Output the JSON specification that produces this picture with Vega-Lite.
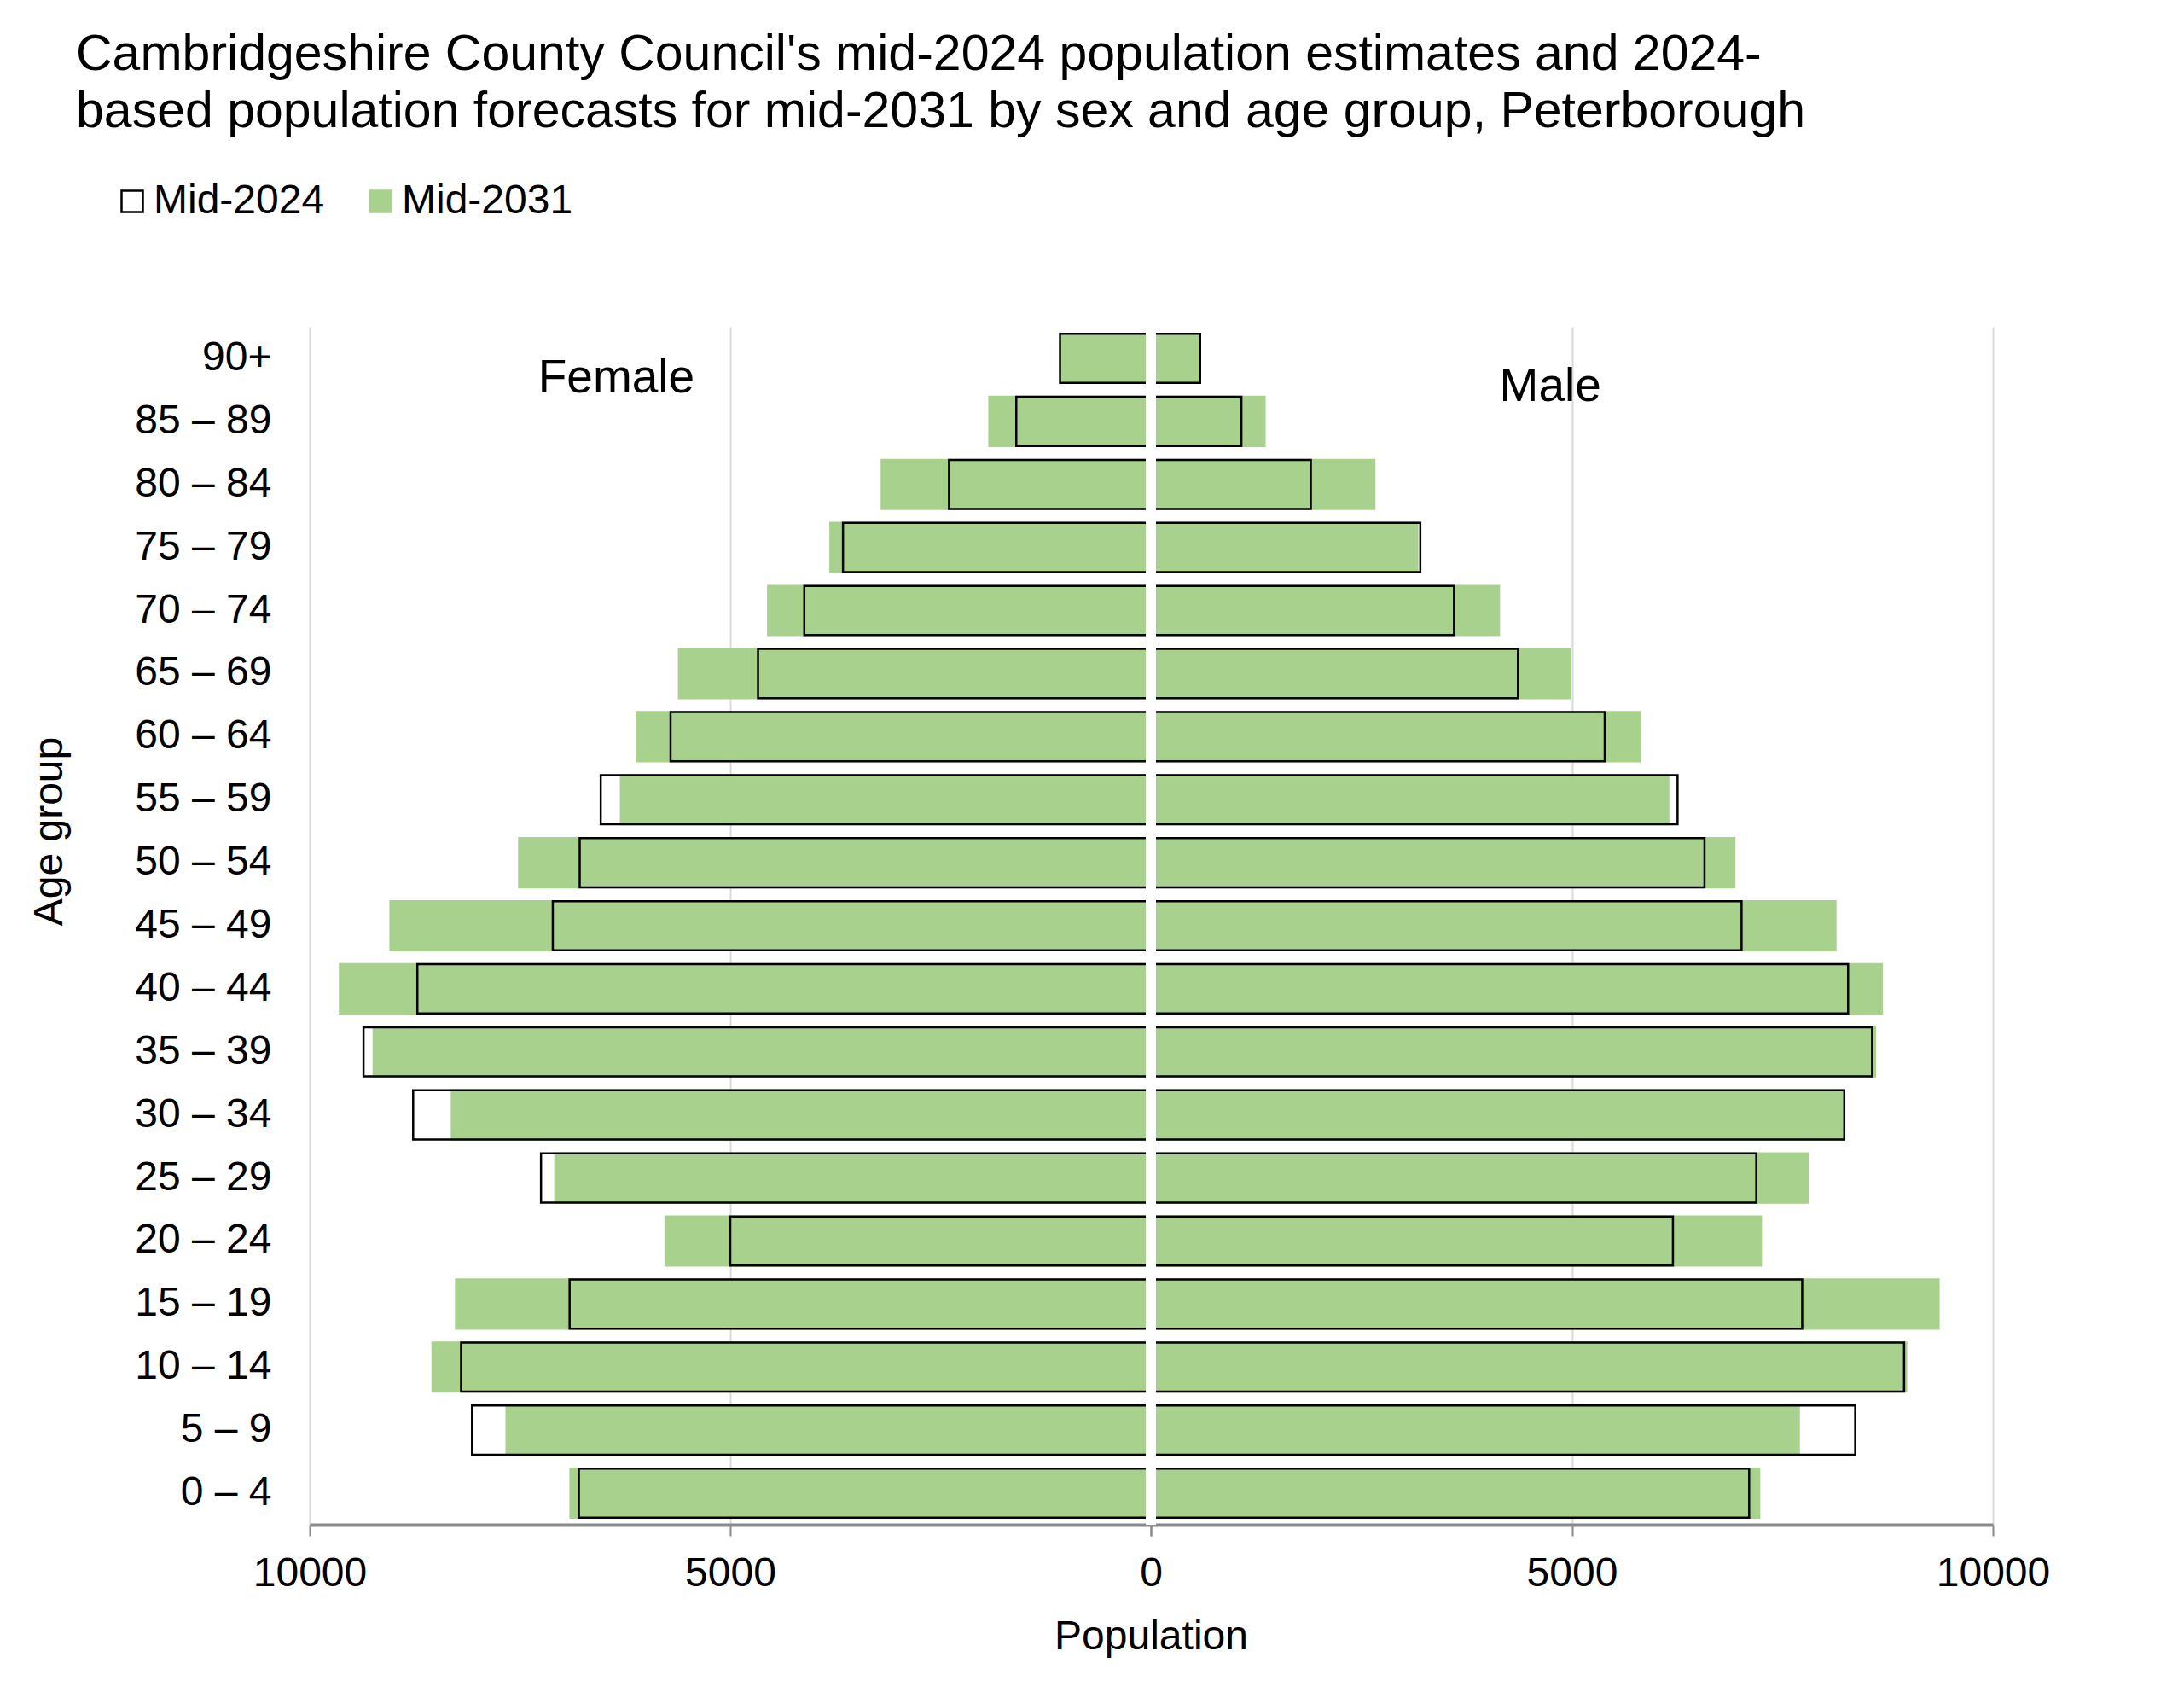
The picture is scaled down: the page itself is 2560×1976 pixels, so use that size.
{
  "$schema": "https://vega.github.io/schema/vega-lite/v6.json",
  "padding": {"left": 34, "top": 35, "right": 150, "bottom": 40},
  "background": "white",
  "title": {
    "text": ["Cambridgeshire County Council's mid-2024 population estimates and 2024-", "based population forecasts for mid-2031 by sex and age group, Peterborough"],
    "anchor": "start",
    "frame": "group",
    "dx": -274,
    "offset": 51,
    "fontSize": 59,
    "fontWeight": "normal",
    "lineHeight": 67,
    "color": "#000000"
  },
  "datasets": {
    "pop": [
      {"age": "90+", "sex": "Female", "series": "Mid-2024", "population": 1080},
      {"age": "90+", "sex": "Female", "series": "Mid-2031", "population": 1070},
      {"age": "85 – 89", "sex": "Female", "series": "Mid-2024", "population": 1600},
      {"age": "85 – 89", "sex": "Female", "series": "Mid-2031", "population": 1920},
      {"age": "80 – 84", "sex": "Female", "series": "Mid-2024", "population": 2400},
      {"age": "80 – 84", "sex": "Female", "series": "Mid-2031", "population": 3200},
      {"age": "75 – 79", "sex": "Female", "series": "Mid-2024", "population": 3660},
      {"age": "75 – 79", "sex": "Female", "series": "Mid-2031", "population": 3810},
      {"age": "70 – 74", "sex": "Female", "series": "Mid-2024", "population": 4120},
      {"age": "70 – 74", "sex": "Female", "series": "Mid-2031", "population": 4550},
      {"age": "65 – 69", "sex": "Female", "series": "Mid-2024", "population": 4670},
      {"age": "65 – 69", "sex": "Female", "series": "Mid-2031", "population": 5610},
      {"age": "60 – 64", "sex": "Female", "series": "Mid-2024", "population": 5710},
      {"age": "60 – 64", "sex": "Female", "series": "Mid-2031", "population": 6110},
      {"age": "55 – 59", "sex": "Female", "series": "Mid-2024", "population": 6540},
      {"age": "55 – 59", "sex": "Female", "series": "Mid-2031", "population": 6300},
      {"age": "50 – 54", "sex": "Female", "series": "Mid-2024", "population": 6790},
      {"age": "50 – 54", "sex": "Female", "series": "Mid-2031", "population": 7510},
      {"age": "45 – 49", "sex": "Female", "series": "Mid-2024", "population": 7110},
      {"age": "45 – 49", "sex": "Female", "series": "Mid-2031", "population": 9040},
      {"age": "40 – 44", "sex": "Female", "series": "Mid-2024", "population": 8720},
      {"age": "40 – 44", "sex": "Female", "series": "Mid-2031", "population": 9640},
      {"age": "35 – 39", "sex": "Female", "series": "Mid-2024", "population": 9360},
      {"age": "35 – 39", "sex": "Female", "series": "Mid-2031", "population": 9240},
      {"age": "30 – 34", "sex": "Female", "series": "Mid-2024", "population": 8770},
      {"age": "30 – 34", "sex": "Female", "series": "Mid-2031", "population": 8310},
      {"age": "25 – 29", "sex": "Female", "series": "Mid-2024", "population": 7250},
      {"age": "25 – 29", "sex": "Female", "series": "Mid-2031", "population": 7080},
      {"age": "20 – 24", "sex": "Female", "series": "Mid-2024", "population": 5000},
      {"age": "20 – 24", "sex": "Female", "series": "Mid-2031", "population": 5770},
      {"age": "15 – 19", "sex": "Female", "series": "Mid-2024", "population": 6910},
      {"age": "15 – 19", "sex": "Female", "series": "Mid-2031", "population": 8260},
      {"age": "10 – 14", "sex": "Female", "series": "Mid-2024", "population": 8200},
      {"age": "10 – 14", "sex": "Female", "series": "Mid-2031", "population": 8540},
      {"age": "5 – 9", "sex": "Female", "series": "Mid-2024", "population": 8070},
      {"age": "5 – 9", "sex": "Female", "series": "Mid-2031", "population": 7660},
      {"age": "0 – 4", "sex": "Female", "series": "Mid-2024", "population": 6800},
      {"age": "0 – 4", "sex": "Female", "series": "Mid-2031", "population": 6900},
      {"age": "90+", "sex": "Male", "series": "Mid-2024", "population": 585},
      {"age": "90+", "sex": "Male", "series": "Mid-2031", "population": 575},
      {"age": "85 – 89", "sex": "Male", "series": "Mid-2024", "population": 1075},
      {"age": "85 – 89", "sex": "Male", "series": "Mid-2031", "population": 1350},
      {"age": "80 – 84", "sex": "Male", "series": "Mid-2024", "population": 1900},
      {"age": "80 – 84", "sex": "Male", "series": "Mid-2031", "population": 2655},
      {"age": "75 – 79", "sex": "Male", "series": "Mid-2024", "population": 3200},
      {"age": "75 – 79", "sex": "Male", "series": "Mid-2031", "population": 3165},
      {"age": "70 – 74", "sex": "Male", "series": "Mid-2024", "population": 3600},
      {"age": "70 – 74", "sex": "Male", "series": "Mid-2031", "population": 4135},
      {"age": "65 – 69", "sex": "Male", "series": "Mid-2024", "population": 4360},
      {"age": "65 – 69", "sex": "Male", "series": "Mid-2031", "population": 4975},
      {"age": "60 – 64", "sex": "Male", "series": "Mid-2024", "population": 5390},
      {"age": "60 – 64", "sex": "Male", "series": "Mid-2031", "population": 5805},
      {"age": "55 – 59", "sex": "Male", "series": "Mid-2024", "population": 6255},
      {"age": "55 – 59", "sex": "Male", "series": "Mid-2031", "population": 6145},
      {"age": "50 – 54", "sex": "Male", "series": "Mid-2024", "population": 6575},
      {"age": "50 – 54", "sex": "Male", "series": "Mid-2031", "population": 6930},
      {"age": "45 – 49", "sex": "Male", "series": "Mid-2024", "population": 7015},
      {"age": "45 – 49", "sex": "Male", "series": "Mid-2031", "population": 8130},
      {"age": "40 – 44", "sex": "Male", "series": "Mid-2024", "population": 8280},
      {"age": "40 – 44", "sex": "Male", "series": "Mid-2031", "population": 8680},
      {"age": "35 – 39", "sex": "Male", "series": "Mid-2024", "population": 8565},
      {"age": "35 – 39", "sex": "Male", "series": "Mid-2031", "population": 8600},
      {"age": "30 – 34", "sex": "Male", "series": "Mid-2024", "population": 8235},
      {"age": "30 – 34", "sex": "Male", "series": "Mid-2031", "population": 8225},
      {"age": "25 – 29", "sex": "Male", "series": "Mid-2024", "population": 7190},
      {"age": "25 – 29", "sex": "Male", "series": "Mid-2031", "population": 7800},
      {"age": "20 – 24", "sex": "Male", "series": "Mid-2024", "population": 6200},
      {"age": "20 – 24", "sex": "Male", "series": "Mid-2031", "population": 7245},
      {"age": "15 – 19", "sex": "Male", "series": "Mid-2024", "population": 7735},
      {"age": "15 – 19", "sex": "Male", "series": "Mid-2031", "population": 9355},
      {"age": "10 – 14", "sex": "Male", "series": "Mid-2024", "population": 8945},
      {"age": "10 – 14", "sex": "Male", "series": "Mid-2031", "population": 8970},
      {"age": "5 – 9", "sex": "Male", "series": "Mid-2024", "population": 8365},
      {"age": "5 – 9", "sex": "Male", "series": "Mid-2031", "population": 7695},
      {"age": "0 – 4", "sex": "Male", "series": "Mid-2024", "population": 7105},
      {"age": "0 – 4", "sex": "Male", "series": "Mid-2031", "population": 7225}
    ]
  },
  "data": {"name": "pop"},
  "bounds": "flush",
  "spacing": 0,
  "resolve": {
    "scale": {"fill": "shared", "stroke": "shared", "y": "shared"},
    "legend": {"fill": "shared", "stroke": "shared"}
  },
  "hconcat": [
    {
      "width": 986,
      "height": 1404,
      "layer": [
        {
          "transform": [{"filter": "datum.sex == 'Female' && datum.series == 'Mid-2031'"}],
          "mark": {"type": "bar", "strokeWidth": 2.5},
          "encoding": {
            "x": {"field": "population", "type": "quantitative", "stack": null,
              "scale": {"domain": [0, 10000], "reverse": true, "nice": false},
              "axis": {"values": [0, 5000, 10000], "title": "Population", "titleX": 986, "titleAnchor": "middle", "titleAlign": "center"}},
            "y": {"field": "age", "type": "nominal",
              "scale": {"domain": ["90+", "85 – 89", "80 – 84", "75 – 79", "70 – 74", "65 – 69", "60 – 64", "55 – 59", "50 – 54", "45 – 49", "40 – 44", "35 – 39", "30 – 34", "25 – 29", "20 – 24", "15 – 19", "10 – 14", "5 – 9", "0 – 4"], "paddingInner": 0.22, "paddingOuter": 0.11},
              "axis": {"title": "Age group", "titleX": -281, "titleY": 591, "ticks": false, "domain": false, "grid": false, "labelPadding": 45}},
            "fill": {"field": "series", "type": "nominal", "scale": {"domain": ["Mid-2024", "Mid-2031"], "range": ["transparent", "#a9d18e"]},
              "legend": {"orient": "none", "legendX": -232, "legendY": -171, "direction": "horizontal", "title": null}},
            "stroke": {"field": "series", "type": "nominal", "scale": {"domain": ["Mid-2024", "Mid-2031"], "range": ["#000000", "#a9d18e"]},
              "legend": {"orient": "none", "legendX": -232, "legendY": -171, "direction": "horizontal", "title": null}}
          }
        },
        {
          "transform": [{"filter": "datum.sex == 'Female' && datum.series == 'Mid-2024'"}],
          "mark": {"type": "bar", "strokeWidth": 2.5},
          "encoding": {
            "x": {"field": "population", "type": "quantitative", "stack": null},
            "y": {"field": "age", "type": "nominal"},
            "fill": {"field": "series", "type": "nominal"},
            "stroke": {"field": "series", "type": "nominal"}
          }
        },
        {
          "data": {"values": [{}]},
          "mark": {"type": "text", "fontSize": 55, "dy": 40, "baseline": "alphabetic", "align": "center", "color": "#000000"},
          "encoding": {
            "x": {"datum": 6355, "type": "quantitative"},
            "y": {"datum": "90+", "type": "nominal"},
            "text": {"value": "Female"}
          }
        }
      ]
    },
    {
      "width": 987,
      "height": 1404,
      "layer": [
        {
          "transform": [{"filter": "datum.sex == 'Male' && datum.series == 'Mid-2031'"}],
          "mark": {"type": "bar", "strokeWidth": 2.5},
          "encoding": {
            "x": {"field": "population", "type": "quantitative", "stack": null,
              "scale": {"domain": [0, 10000], "nice": false},
              "axis": {"values": [0, 5000, 10000], "title": null, "labelExpr": "datum.value == 0 ? '' : datum.label"}},
            "y": {"field": "age", "type": "nominal", "axis": null},
            "fill": {"field": "series", "type": "nominal"},
            "stroke": {"field": "series", "type": "nominal"}
          }
        },
        {
          "transform": [{"filter": "datum.sex == 'Male' && datum.series == 'Mid-2024'"}],
          "mark": {"type": "bar", "strokeWidth": 2.5},
          "encoding": {
            "x": {"field": "population", "type": "quantitative", "stack": null},
            "y": {"field": "age", "type": "nominal"},
            "fill": {"field": "series", "type": "nominal"},
            "stroke": {"field": "series", "type": "nominal"}
          }
        },
        {
          "data": {"values": [{}]},
          "mark": {"type": "rule", "color": "#ffffff", "strokeWidth": 12},
          "encoding": {
            "x": {"datum": 0, "type": "quantitative"}
          }
        },
        {
          "data": {"values": [{}]},
          "mark": {"type": "text", "fontSize": 55, "dy": 50, "baseline": "alphabetic", "align": "center", "color": "#000000"},
          "encoding": {
            "x": {"datum": 4744, "type": "quantitative"},
            "y": {"datum": "90+", "type": "nominal"},
            "text": {"value": "Male"}
          }
        }
      ]
    }
  ],
  "config": {
    "font": "Liberation Sans",
    "view": {"stroke": null},
    "axis": {
      "labelFontSize": 48,
      "labelColor": "#000000",
      "titleFontSize": 48,
      "titleFontWeight": "normal",
      "titleColor": "#000000",
      "gridColor": "#d9d9d9",
      "gridWidth": 2
    },
    "axisX": {
      "format": "d",
      "grid": true,
      "domainColor": "#898989",
      "domainWidth": 4,
      "tickColor": "#898989",
      "tickWidth": 2,
      "tickSize": 13,
      "labelPadding": 20,
      "labelFlush": false,
      "labelOverlap": false,
      "titlePadding": 26
    },
    "legend": {
      "symbolType": "square",
      "symbolSize": 625,
      "symbolStrokeWidth": 2.5,
      "labelFontSize": 48,
      "labelColor": "#000000",
      "labelLimit": 0,
      "labelOffset": 1,
      "columnPadding": 41,
      "padding": 0
    }
  }
}
